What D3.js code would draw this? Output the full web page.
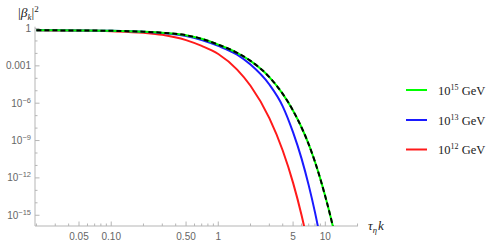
<!DOCTYPE html>
<html><head><meta charset="utf-8">
<script src="https://cdn.jsdelivr.net/npm/d3@7"></script>
<style>body{margin:0;background:#fff}svg{display:block}</style>
</head><body><svg id="c" width="498" height="246"></svg>
<script>
// ---- data ----
const kGrid = [0.02, 0.05, 0.1, 0.2, 0.3, 0.5, 0.7, 1, 1.5, 2, 3, 4, 5, 6, 7, 8, 9, 10, 11, 12];
const beta15 = [0.716, 0.692, 0.653, 0.550, 0.457, 0.288, 0.148, 0.0501, 0.0112, 2.51e-3, 1.26e-4, 5.62e-6, 2.51e-7, 1.12e-8, 5.01e-10, 2.0e-11, 7.94e-13, 3.16e-14, 1.41e-15, 6.31e-17];
const approx15 = [0.716, 0.692, 0.653, 0.550, 0.457, 0.288, 0.148, 0.0501, 0.0112, 2.51e-3, 1.26e-4, 5.62e-6, 2.51e-7, 1.12e-8, 5.01e-10, 2.0e-11, 7.94e-13, 3.16e-14, 1.41e-15, 6.31e-17];
const beta13 = [0.716, 0.692, 0.646, 0.537, 0.437, 0.251, 0.120, 0.0398, 7.94e-3, 1.26e-3, 3.16e-5, 5.62e-7, 4.47e-9, 3.55e-11, 2.51e-13, 1.78e-15, 1.26e-17];
const beta12 = [0.708, 0.676, 0.603, 0.457, 0.316, 0.117, 0.0398, 8.91e-3, 5.01e-4, 2.51e-5, 6.31e-8, 1.58e-10, 3.98e-13, 1.0e-15, 2.51e-18];
const seriesNames = ["15", "13", "12"];
const seriesColors = ["#00ff00", "#1a1aff", "#ff1a1a"];
const xMajorTicks = [0.05, 0.1, 0.5, 1, 5, 10];
const xMajorLabels = ["0.05", "0.10", "0.50", "1", "5", "10"];
const yMajorTicks = [1, 1e-3, 1e-6, 1e-9, 1e-12, 1e-15];
const yMajorLabels = [["1", ""], ["0.001", ""], ["10", "\u22126"], ["10", "\u22129"], ["10", "\u221212"], ["10", "\u221215"]];

// ---- layout ----
const svg = d3.select("#c");
const x = d3.scaleLog().domain([0.0194, 20.2]).range([35, 358]);
const y = d3.scaleLog().domain([1.37e-16, 1.395]).range([226, 26.7]);
const axisCol = "#b5b5b5", labCol = "#666";

// axes lines
svg.append("line").attr("x1", 35).attr("x2", 358).attr("y1", 226).attr("y2", 226).attr("stroke", axisCol);
svg.append("line").attr("x1", 35).attr("x2", 35).attr("y1", 226).attr("y2", 26.7).attr("stroke", axisCol);

// x minor ticks
const xMinor = [];
[0.01, 0.1, 1, 10].forEach(d => { for (let m = 1; m <= 9; m++) xMinor.push(d * m); });
svg.append("g").selectAll("line").data(xMinor.filter(v => v >= 0.0194 && v <= 20.2 && !xMajorTicks.includes(+v.toPrecision(3))))
  .join("line").attr("x1", d => x(d)).attr("x2", d => x(d)).attr("y1", 226).attr("y2", 223.5).attr("stroke", axisCol);
svg.append("g").selectAll("line").data(xMajorTicks).join("line")
  .attr("x1", d => x(d)).attr("x2", d => x(d)).attr("y1", 226).attr("y2", 221.5).attr("stroke", axisCol);
svg.append("g").selectAll("text").data(xMajorTicks).join("text")
  .attr("x", d => x(d)).attr("y", 240).attr("text-anchor", "middle")
  .attr("font-family", "Liberation Sans, Arial, sans-serif").attr("font-size", 10).attr("fill", labCol)
  .text((d, i) => xMajorLabels[i]);

// y ticks
const yMinor = d3.range(0, 16).map(e => Math.pow(10, -e)).filter(v => !yMajorTicks.includes(v));
svg.append("g").selectAll("line").data(yMinor).join("line")
  .attr("x1", 35).attr("x2", 37.5).attr("y1", d => y(d)).attr("y2", d => y(d)).attr("stroke", axisCol);
svg.append("g").selectAll("line").data(yMajorTicks).join("line")
  .attr("x1", 35).attr("x2", 39.5).attr("y1", d => y(d)).attr("y2", d => y(d)).attr("stroke", axisCol);
const yl = svg.append("g").selectAll("text").data(yMajorTicks).join("text")
  .attr("x", 31).attr("y", d => y(d) + 3.5).attr("text-anchor", "end")
  .attr("font-family", "Liberation Sans, Arial, sans-serif").attr("font-size", 10).attr("fill", labCol);
yl.each(function (d, i) {
  const t = d3.select(this);
  t.append("tspan").text(yMajorLabels[i][0]);
  if (yMajorLabels[i][1]) t.append("tspan").attr("dy", -4).attr("font-size", 7.5).text(yMajorLabels[i][1]);
});

// clip
svg.append("clipPath").attr("id", "pc").append("rect").attr("x", 35).attr("y", 0).attr("width", 330).attr("height", 226);

const line = d3.line().x(d => x(d[0])).y(d => y(d[1])).curve(d3.curveMonotoneX);
const pair = arr => arr.map((v, i) => [kGrid[i], v]);
const g = svg.append("g").attr("clip-path", "url(#pc)");
g.append("path").attr("d", line(pair(beta12))).attr("fill", "none").attr("stroke", seriesColors[2]).attr("stroke-width", 2);
g.append("path").attr("d", line(pair(beta13))).attr("fill", "none").attr("stroke", seriesColors[1]).attr("stroke-width", 2);
g.append("path").attr("d", line(pair(beta15))).attr("fill", "none").attr("stroke", seriesColors[0]).attr("stroke-width", 2);
g.append("path").attr("d", line(pair(approx15))).attr("fill", "none").attr("stroke", "#000").attr("stroke-width", 2).attr("stroke-dasharray", "5,3");

// axis labels
const serif = "Liberation Serif, Times New Roman, serif";
const ylab = svg.append("text").attr("x", 18).attr("y", 17).attr("font-family", serif).attr("font-size", 13.5).attr("fill", "#222");
ylab.append("tspan").text("|");
ylab.append("tspan").attr("font-style", "italic").text("\u03b2");
ylab.append("tspan").attr("font-style", "italic").attr("font-size", 9).attr("dy", 3).text("k");
ylab.append("tspan").attr("dy", -3).text("|");
ylab.append("tspan").attr("font-size", 9).attr("dy", -5.5).text("2");

const xlab = svg.append("text").attr("x", 368).attr("y", 230).attr("font-family", serif).attr("font-size", 13).attr("fill", "#222");
xlab.append("tspan").attr("font-style", "italic").text("\u03c4");
xlab.append("tspan").attr("font-style", "italic").attr("font-size", 8.5).attr("dy", 3).text("\u03b7");
xlab.append("tspan").attr("font-style", "italic").attr("dy", -3).attr("dx", 1).text("k");

// legend
const legY = [90, 120, 149.5];
const lg = svg.append("g");
seriesNames.forEach((n, i) => {
  lg.append("line").attr("x1", 406).attr("x2", 427).attr("y1", legY[i]).attr("y2", legY[i]).attr("stroke", seriesColors[i]).attr("stroke-width", 2);
  const t = lg.append("text").attr("x", 438).attr("y", legY[i] + 4.5).attr("font-family", serif).attr("font-size", 12.5).attr("fill", "#222");
  t.append("tspan").text("10");
  t.append("tspan").attr("font-size", 8).attr("dy", -5).text(n);
  t.append("tspan").attr("dy", 5).text(" GeV");
});
</script></body></html>
